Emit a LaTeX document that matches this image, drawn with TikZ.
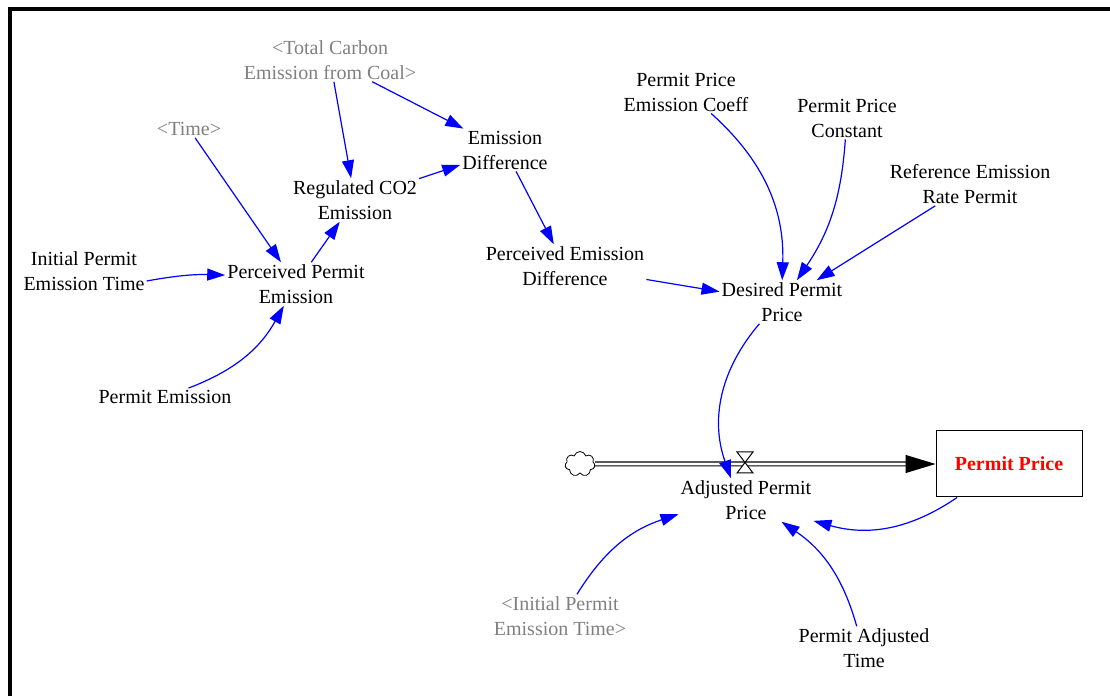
\documentclass[tikz,border=0pt]{standalone}
\usepackage{fontspec}
\setmainfont{Liberation Serif}
\usetikzlibrary{arrows.meta, shapes.symbols}

\begin{document}
\begin{tikzpicture}[x=1pt, y=1pt,
  var/.style={align=center, inner sep=2pt, font=\fontsize{20}{25}\selectfont},
  ghost/.style={var, text=gray},
  stock/.style={draw, line width=1pt, minimum width=146pt, minimum height=66pt,
                font=\fontsize{20}{25}\selectfont\bfseries, text=red},
  link/.style={-{Triangle[length=18pt, width=12pt]}, blue, line width=1.2pt},
  pipe/.style={double, double distance=2.8pt, line width=1.1pt}]
\useasboundingbox (0,0) rectangle (1110,696);
\draw[line width=4pt] (10,0) -- (10,687) -- (1110,687);
% variables
\node[ghost] (tcec) at (330,636) {<Total Carbon\\Emission from Coal>};
\node[ghost] (time) at (189,567) {<Time>};
\node[var] (emdiff) at (505,546) {Emission\\Difference};
\node[var] (reg) at (355,496) {Regulated CO2\\Emission};
\node[var] (ipet) at (84,425) {Initial Permit\\Emission Time};
\node[var] (ppe) at (296,412) {Perceived Permit\\Emission};
\node[var] (pe) at (165,299) {Permit Emission};
\node[var] (ped) at (565,430) {Perceived Emission\\Difference};
\node[var] (ppec) at (686,604) {Permit Price\\Emission Coeff};
\node[var] (ppc) at (847,578) {Permit Price\\Constant};
\node[var] (rerp) at (970,512) {Reference Emission\\Rate Permit};
\node[var] (dpp) at (782,394) {Desired Permit\\Price};
\node[var] (apr) at (746,196) {Adjusted Permit\\Price};
\node[ghost] (ipet2) at (560,80) {<Initial Permit\\Emission Time>};
\node[var] (pat) at (864,48) {Permit Adjusted\\Time};
% stock and flow
\node[stock] (pp) at (1009,232) {Permit Price};
\node[cloud, draw, cloud puffs=7, aspect=1.2, line width=0.8pt, inner sep=0pt,
      minimum width=30pt, minimum height=25pt] (src) at (580,232) {};
\coordinate (valve) at (745,233);
\draw[pipe, shorten >=28pt] (src.east) -- (pp.west);
\draw[-{Triangle[length=30pt, width=18pt]}, line width=1pt]
  ([xshift=-30pt]pp.west) -- (pp.west);
\draw[line width=1pt, fill=white] ([shift={(-8,11)}]valve) -- ([shift={(8,11)}]valve)
  -- ([shift={(-8,-10)}]valve) -- ([shift={(8,-10)}]valve) -- cycle;
% links
\draw[link] (tcec) -- (reg);
\draw[link] (tcec) -- (emdiff);
\draw[link] (reg) -- (emdiff);
\draw[link] (emdiff) -- (ped);
\draw[link] (time) -- (ppe);
\draw[link] ([yshift=-10pt]ipet.east) to[bend left=6] (ppe);
\draw[link] (pe) to[bend right=20] (ppe);
\draw[link] (ppe) -- (reg);
\draw[link] (ped) -- (dpp);
\draw[link] (ppec) to[bend left=25] (dpp);
\draw[link] (ppc) to[bend left=15] (dpp);
\draw[link] (rerp) -- (dpp);
\draw[link] (dpp) to[bend right=30] ([xshift=-15pt]apr.north);
\draw[link] (pp) to[bend left=25] (apr);
\draw[link] (ipet2) to[bend left=20] (apr);
\draw[link] (pat) to[bend right=20] (apr);
\end{tikzpicture}
\end{document}
